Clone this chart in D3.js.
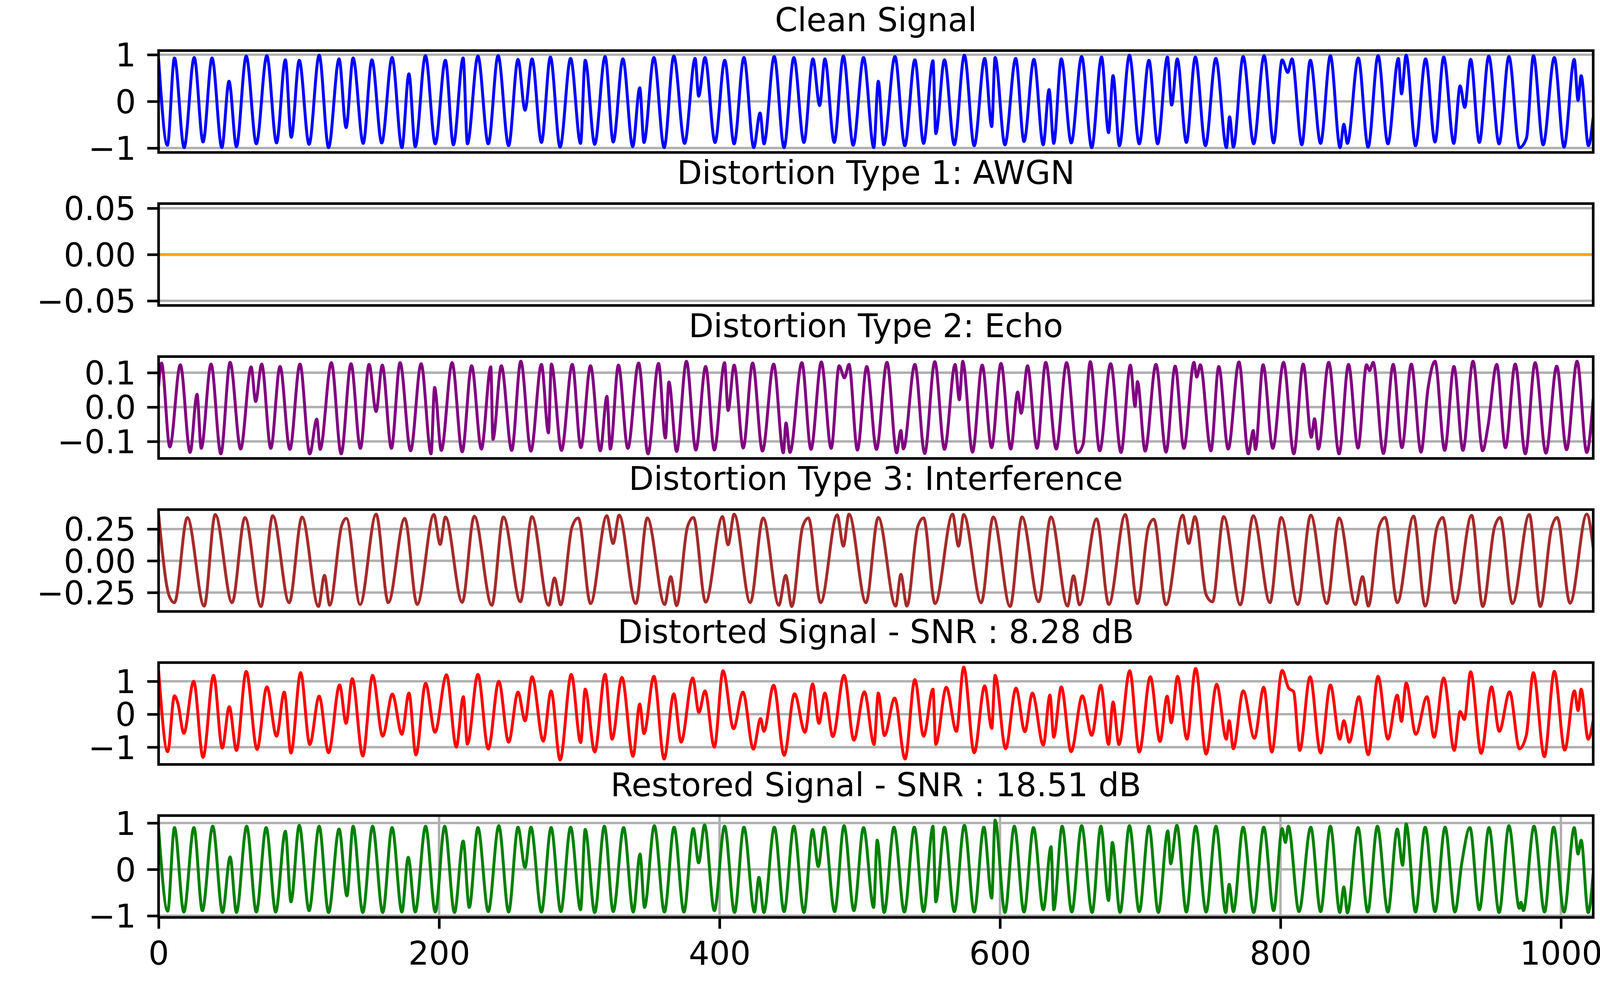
<!DOCTYPE html>
<html>
<head>
<meta charset="utf-8">
<script src="https://cdn.jsdelivr.net/npm/d3@7"></script>
<style>
  html, body { margin: 0; padding: 0; background: #ffffff; }
  svg { display: block; }
</style>
</head>
<body>
<script>
// ---------------- DATA ([sample index, value] at extrema) ----------------
const titles = [
  "Clean Signal",
  "Distortion Type 1: AWGN",
  "Distortion Type 2: Echo",
  "Distortion Type 3: Interference",
  "Distorted Signal - SNR : 8.28 dB",
  "Restored Signal - SNR : 18.51 dB"
];
const colors = ["#0000ff", "#ffa500", "#800080", "#a52a2a", "#ff0000", "#008000"];
const yLimits = [[-1.094, 1.088], [-0.055, 0.055], [-0.1494, 0.1468], [-0.399, 0.403], [-1.526, 1.568], [-1.036, 1.160]];
const yTicks = [[-1, 0, 1], [-0.05, 0, 0.05], [-0.1, 0, 0.1], [-0.25, 0, 0.25], [-1, 0, 1], [-1, 0, 1]];
const yTickDecimals = [0, 2, 1, 2, 0, 0];
const xTicks = [0, 200, 400, 600, 800, 1000];
const xDomain = [0, 1023];

const cleanPts = [[0,0.9],[6.3,-0.94],[11.3,0.93],[18.2,-0.99],[25.4,0.94],[31.7,-0.87],[38.1,0.93],[45.1,-0.99],[50.2,0.43],[55.5,-0.97],[62.5,0.97],[69.7,-0.91],[77.2,0.98],[84.1,-0.89],[90.4,0.89],[94.6,-0.77],[100.3,0.88],[107.3,-0.92],[114.5,0.99],[121.2,-0.99],[128.7,0.91],[133.7,-0.56],[138.7,0.93],[145.9,-0.9],[152.1,0.89],[159.1,-0.89],[166.5,0.94],[173.5,-0.99],[178.5,0.59],[183,-0.97],[190.3,0.98],[197.3,-0.91],[204.5,0.88],[210.2,-0.93],[217.2,0.93],[220.2,-0.91],[227.7,0.97],[235.1,-0.91],[242.1,0.98],[249.6,-0.95],[256.3,0.9],[261.3,-0.19],[266.3,0.91],[273,-0.88],[279.4,0.95],[286.3,-0.98],[293.8,0.92],[300.9,-0.9],[304.2,0.88],[311,-0.92],[318.4,0.96],[324.2,-0.87],[331.1,0.91],[338.1,-0.97],[343.1,0.29],[346.1,-0.88],[353.2,0.94],[360.5,-0.99],[367.4,0.97],[375.1,-0.9],[382.6,0.92],[385.1,0.11],[389.6,0.94],[396.8,-0.88],[403.7,0.88],[410.4,-0.91],[417.4,0.94],[424.4,-0.99],[428.9,-0.25],[431.7,-0.91],[439,0.96],[446,-0.99],[453,0.94],[460.2,-0.88],[466.6,0.91],[471.4,-0.09],[475.1,0.91],[481.8,-0.88],[488.3,0.97],[495.3,-0.94],[502.7,0.94],[510,-0.99],[513.2,0.43],[517.1,-0.93],[525.1,0.96],[532.1,-0.95],[539.3,0.89],[545.5,-0.9],[552.2,0.87],[554.2,-0.69],[560.4,0.89],[567.4,-0.93],[574.6,0.99],[581.6,-0.95],[589.1,0.92],[594.1,-0.54],[596.5,0.94],[603.5,-0.93],[611.2,0.92],[617.1,-0.86],[624.2,0.9],[630.8,-0.93],[635,0.25],[638.3,-0.9],[643.7,0.91],[650.8,-0.89],[658.2,0.96],[665.4,-0.99],[672.4,0.95],[677.4,-0.67],[680.6,0.55],[685.1,-0.95],[692.3,0.99],[699.3,-0.91],[706.2,0.88],[712.4,-0.91],[719.4,0.95],[722.4,-0.08],[726.4,0.91],[732.9,-0.88],[739.3,0.95],[746.5,-0.95],[753.9,0.92],[761.5,-0.99],[763.7,-0.33],[766.4,-0.98],[773.4,0.96],[780.9,-0.91],[788.3,0.98],[795.1,-0.89],[801.2,0.89],[805.2,0.62],[808.2,0.91],[815.2,-0.93],[821.3,0.88],[828.6,-0.9],[835.6,0.98],[842.5,-0.99],[845.2,-0.49],[847.7,-0.9],[855.5,0.93],[862.5,-0.98],[869.6,0.98],[876.6,-0.91],[884.1,0.92],[886.3,0.16],[889.6,0.99],[896.3,-0.95],[903.5,0.91],[910.2,-0.87],[916.4,0.95],[923.6,-0.9],[928.1,0.33],[931.4,-0.13],[935.6,0.9],[941.8,-0.88],[948.5,0.97],[955.9,-0.91],[962.9,0.96],[970.4,-0.99],[975.4,-0.79],[980.4,0.98],[987.3,-0.93],[995.3,0.94],[1002.2,-0.98],[1009.5,0.9],[1012.2,0.02],[1014.4,0.55],[1019.6,-0.95],[1023,-0.34]];

const awgnPts = [[0,0],[1023,0]];

const echoPts = [[0,0.06],[2.1,0.128],[8,-0.116],[15.5,0.123],[22.5,-0.132],[27.4,0.037],[30.4,-0.12],[37.4,0.125],[44.4,-0.136],[51,0.13],[58.5,-0.122],[66,0.117],[69.2,0.016],[73.5,0.125],[80,-0.12],[86.6,0.118],[93.6,-0.123],[100.8,0.125],[107.8,-0.136],[112.8,-0.035],[115.2,-0.123],[123.2,0.129],[130.2,-0.136],[137.2,0.126],[143.9,-0.12],[150.1,0.124],[155.1,-0.013],[159.5,0.122],[166,-0.12],[172.2,0.129],[179.7,-0.127],[187.2,0.126],[194.3,-0.136],[196.8,0.057],[201.6,-0.126],[209.3,0.129],[216.5,-0.13],[223.2,0.12],[230.2,-0.122],[236.9,0.117],[238.4,-0.094],[244.4,0.12],[251.8,-0.126],[258.3,0.133],[265.5,-0.128],[273,0.124],[278,-0.075],[280.1,0.125],[287.3,-0.126],[295,0.124],[301.1,-0.118],[308,0.12],[315,-0.127],[319.7,0.031],[322.1,-0.122],[327.9,0.122],[334.6,-0.12],[342.3,0.128],[349,-0.136],[356.5,0.127],[361.4,-0.09],[363.9,0.073],[369.4,-0.129],[376.4,0.133],[383.1,-0.125],[390.1,0.118],[396.3,-0.125],[403.6,0.129],[406.1,-0.01],[410.4,0.122],[416.9,-0.119],[423.6,0.128],[430.6,-0.128],[438.6,0.125],[445.5,-0.133],[447.4,-0.046],[450.2,-0.132],[458.7,0.129],[465.2,-0.123],[472.6,0.131],[479.6,-0.12],[485.3,0.12],[489.1,0.085],[492.3,0.124],[498.3,-0.125],[505,0.118],[511.9,-0.123],[519.4,0.13],[526.3,-0.133],[529.3,-0.068],[531.1,-0.122],[539.3,0.124],[546.3,-0.135],[553.5,0.132],[560.4,-0.123],[568,0.124],[571,0.021],[573.4,0.133],[580.4,-0.131],[587.3,0.122],[594,-0.118],[600.7,0.127],[607.7,-0.122],[612.6,0.044],[615.1,-0.018],[619.6,0.12],[626.4,-0.12],[632.6,0.13],[640.1,-0.122],[647.5,0.129],[655.1,-0.133],[659.2,-0.108],[664.4,0.132],[671.1,-0.127],[678.9,0.126],[686.3,-0.132],[693,0.122],[696.3,0.002],[698,0.074],[703.5,-0.128],[711.2,0.124],[718.4,-0.131],[724.9,0.119],[731.1,-0.12],[738.3,0.13],[740.3,0.087],[742.8,0.123],[750.4,-0.127],[756,0.118],[762.7,-0.122],[770.4,0.131],[777.1,-0.136],[780.6,-0.068],[782.1,-0.123],[787.6,0.123],[794.5,-0.12],[802.2,0.13],[809.5,-0.136],[816.2,0.125],[822,-0.088],[824.3,-0.034],[827,-0.122],[834.4,0.13],[841.8,-0.136],[848.5,0.124],[855.3,-0.119],[861.4,0.123],[863.5,0.106],[866.1,0.13],[873.4,-0.135],[880.4,0.124],[886.6,-0.118],[893.3,0.125],[900.2,-0.131],[905.2,0.054],[910.2,0.133],[917.1,-0.126],[923.7,0.118],[930.1,-0.126],[937.3,0.133],[944.2,-0.127],[948,-0.055],[954.2,0.124],[960.4,-0.118],[967.4,0.125],[974.6,-0.136],[981.6,0.129],[989.3,-0.134],[997,0.119],[1004,-0.124],[1011.5,0.133],[1018.4,-0.132],[1023,0.025]];

const interfPts = [[0,0.367],[7.5,-0.275],[11.3,-0.33],[20.5,0.34],[32.5,-0.357],[40.4,0.364],[52.4,-0.33],[61.6,0.34],[73,-0.36],[81.4,0.355],[93.1,-0.33],[102.3,0.344],[114,-0.36],[118.3,-0.115],[122,-0.35],[130.6,0.279],[133.9,0.334],[143.7,-0.344],[155.1,0.367],[163.8,-0.33],[175.5,0.334],[184.4,-0.344],[196.3,0.364],[200.8,0.129],[204.5,0.345],[216.5,-0.327],[225.1,0.351],[237.6,-0.35],[245.9,0.345],[258,-0.323],[266.2,0.348],[278.1,-0.35],[282.3,-0.136],[286.8,-0.347],[294.8,0.266],[299.3,0.337],[308,-0.337],[319.6,0.355],[324.1,0.136],[328.4,0.359],[340.3,-0.337],[348.5,0.337],[360.9,-0.344],[365.2,-0.125],[369.4,-0.353],[377.1,0.266],[381.4,0.341],[390.1,-0.326],[402.1,0.348],[406.1,0.126],[410.4,0.367],[421.9,-0.33],[431.1,0.337],[442.3,-0.35],[447.2,-0.115],[451.5,-0.36],[459.2,0.266],[463.4,0.337],[472.1,-0.33],[483.9,0.362],[488.3,0.115],[492.3,0.367],[504.4,-0.33],[513.2,0.341],[525.6,-0.357],[529.3,-0.107],[533.6,-0.357],[541.3,0.266],[545.5,0.337],[553.7,-0.337],[566.2,0.367],[570.4,0.115],[574.1,0.364],[586.6,-0.33],[595.2,0.345],[607.2,-0.36],[615.7,0.345],[627.6,-0.323],[636.3,0.345],[648.2,-0.357],[652.4,-0.118],[656.7,-0.347],[668.9,0.33],[677.6,-0.344],[689.3,0.364],[698,-0.337],[705.9,0.266],[709.7,0.327],[718.4,-0.347],[730.3,0.359],[734.5,0.136],[739,0.348],[747,-0.267],[751.5,-0.323],[759.5,0.348],[771.4,-0.347],[780.6,0.355],[792.5,-0.33],[800.5,0.341],[812.4,-0.344],[821.6,0.359],[833.1,-0.337],[841.8,0.337],[853.5,-0.344],[858.5,-0.125],[862.7,-0.357],[870.4,0.271],[874.6,0.341],[883.3,-0.33],[894.9,0.352],[903.2,-0.357],[911.5,0.259],[915.7,0.341],[924.4,-0.333],[936.3,0.358],[944.3,-0.36],[952.5,0.259],[956.7,0.341],[965.4,-0.337],[977.4,0.364],[985.3,-0.36],[993.3,0.259],[997.3,0.341],[1006.5,-0.334],[1018.4,0.367],[1023,0.104]];

const distortedPts = [[0,1.32],[6.5,-1.14],[11.3,0.56],[13.8,0.32],[18,-0.58],[25,1.0],[31.7,-1.31],[39.2,1.18],[45.4,-1.03],[50.4,0.23],[55.5,-1.1],[62.5,1.3],[70.2,-1.07],[77.2,0.83],[84.1,-0.67],[89.6,0.67],[94.4,-1.18],[101.3,1.26],[107.8,-0.92],[114.5,0.55],[121.2,-1.17],[129.1,0.89],[133.7,-0.28],[138.1,1.08],[145.6,-1.27],[152.6,1.18],[159.8,-0.67],[166.7,0.61],[173.5,-0.61],[178.5,0.64],[183.5,-1.24],[190.4,0.94],[197.1,-0.55],[205.3,1.2],[212.3,-1.0],[217.3,0.53],[220.2,-0.91],[227.7,1.21],[235.1,-1.06],[242.6,1.0],[249.6,-0.85],[256.3,0.67],[261.3,-0.2],[266.3,1.14],[274.3,-0.82],[279.9,0.71],[286.3,-1.39],[294.3,1.21],[301,-0.86],[304.2,0.76],[311,-1.15],[318.4,1.21],[323.4,-0.76],[330.4,1.12],[338.3,-1.28],[343.1,0.31],[346.1,-0.59],[353.2,1.15],[360.5,-1.36],[367.4,0.62],[372.6,-0.85],[380.9,1.1],[385.3,0.05],[389.6,0.71],[396.3,-1.0],[402.5,1.32],[410,-0.44],[416.7,0.67],[424.1,-1.06],[429.3,-0.13],[431.6,-0.52],[438.6,0.88],[446.1,-1.25],[453.5,0.62],[460.9,-0.55],[466.4,0.92],[470.9,-0.28],[475.1,0.64],[480.8,-0.68],[488.8,1.18],[495.8,-0.79],[503.3,0.68],[510.2,-0.92],[513.2,0.64],[517.6,-0.65],[524.9,0.49],[532.3,-1.36],[539.3,1.05],[545.5,-0.67],[552.2,0.76],[554.2,-0.92],[561.7,0.82],[568.9,-0.52],[574.1,1.43],[581.6,-1.17],[589.1,0.86],[594.1,-0.43],[596.5,1.18],[604,-1.05],[611.4,0.79],[617.7,-0.53],[623.1,0.64],[630.9,-0.94],[635.6,0.58],[638.3,-0.7],[643.7,0.83],[650.7,-1.14],[658.7,0.56],[665.4,-0.64],[671.9,0.88],[677.4,-0.92],[680.6,0.37],[684.8,-0.92],[692.5,1.32],[699.3,-1.15],[707.2,1.14],[714.1,-0.83],[719.2,0.55],[722.1,-0.26],[726.6,1.15],[733.3,-0.76],[739.5,1.39],[747,-1.21],[754.5,0.91],[761.4,-0.76],[763.4,-0.2],[766.4,-1.05],[773.4,0.71],[781.4,-0.73],[788.1,0.82],[793.8,-1.15],[801.2,1.33],[805.7,0.8],[809.4,0.68],[813.7,-1.1],[821.1,1.14],[828.6,-1.18],[835.6,0.89],[842.3,-0.76],[845.2,-0.2],[849.1,-0.85],[855.9,0.53],[862.6,-1.23],[869.6,1.15],[876.6,-0.76],[883.3,0.58],[886.3,-0.22],[889.6,0.95],[896.5,-0.61],[904.5,0.53],[909.5,-0.7],[916.4,1.1],[923.9,-1.1],[928.1,0.08],[931.1,-0.16],[935.6,1.29],[943.1,-1.19],[950.5,0.83],[956,-0.52],[963.4,0.68],[970.4,-1.05],[975.3,-0.64],[980.3,1.26],[988.2,-1.29],[995.3,1.3],[1002.7,-1.09],[1009.6,0.71],[1012.2,0.11],[1014.4,0.76],[1019.4,-0.76],[1023,-0.19]];

const restoredPts = [[0,0.88],[6.5,-0.9],[11.3,0.9],[18,-0.92],[25.2,0.9],[31.2,-0.89],[38.6,0.93],[45.6,-0.93],[51,0.27],[55.5,-0.93],[62.8,0.93],[69.7,-0.92],[76.7,0.9],[83.5,-0.92],[90.4,0.82],[94.4,-0.7],[100.3,0.95],[107.3,-0.89],[114.5,0.93],[121.2,-0.93],[128.7,0.87],[134.3,-0.57],[138.7,0.93],[145.6,-0.93],[152.6,0.93],[159.8,-0.93],[166.5,0.9],[173.5,-0.92],[178,0.26],[183,-0.92],[190.4,0.93],[197.3,-0.92],[204,0.93],[211,-0.93],[217.2,0.61],[221.5,-0.82],[227.7,0.9],[235.1,-0.91],[242.6,0.94],[249.6,-0.92],[256.3,0.91],[261.3,0.04],[265.5,0.91],[273,-0.92],[279.9,0.9],[286.8,-0.91],[293.8,0.91],[300.9,-0.87],[304.2,0.86],[311,-0.93],[317.9,0.93],[324.2,-0.91],[331.6,0.9],[338.5,-0.92],[343.3,0.33],[346.5,-0.82],[353.5,0.94],[360.7,-0.92],[367.6,0.91],[374.6,-0.92],[381.3,0.88],[385.1,0.14],[389.3,0.96],[396.3,-0.89],[403.6,0.93],[410.7,-0.93],[417.4,0.91],[424.9,-0.92],[428.1,-0.17],[431.6,-0.93],[439.1,0.91],[446,-0.91],[453,0.93],[460.2,-0.93],[466.4,0.86],[470.4,0.06],[474.6,0.91],[482.1,-0.91],[488.8,0.94],[495.8,-0.89],[502.7,0.9],[509.9,-0.82],[512.4,0.63],[517.4,-0.93],[524.4,0.91],[531.8,-0.92],[538.9,0.91],[545.5,-0.91],[552.2,0.93],[554.2,-0.7],[560.4,0.91],[567.4,-0.91],[574.6,0.95],[581.6,-0.92],[588.5,0.91],[594.1,-0.62],[596.5,1.06],[603.5,-0.93],[610.2,0.93],[617.1,-0.92],[623.9,0.9],[630.9,-0.87],[636.4,0.49],[638.3,-0.87],[644.3,0.93],[651.2,-0.92],[658.2,0.94],[665.7,-0.93],[671.9,0.93],[677.4,-0.67],[680.1,0.58],[685.6,-0.93],[692.3,0.94],[699.3,-0.91],[706.2,0.93],[712.9,-0.93],[719.7,0.83],[721.7,0.12],[726.1,0.95],[732.9,-0.92],[739.5,0.93],[747,-0.92],[754,0.93],[761,-0.93],[763.4,-0.32],[766.4,-0.91],[773.4,0.91],[780.9,-0.93],[788.1,0.91],[795.1,-0.89],[801.2,0.88],[803.5,0.58],[805.6,0.93],[813.2,-0.91],[821.6,0.91],[828.6,-0.91],[835.6,0.93],[842.3,-0.93],[845.2,-0.38],[847.7,-0.935],[855.3,0.9],[862.2,-0.92],[869.1,0.93],[876.6,-0.92],[883.3,0.87],[887.1,0.09],[889.6,0.98],[896.3,-0.92],[903.2,0.91],[910.2,-0.91],[917.4,0.91],[924.4,-0.92],[929.3,0.14],[935.1,0.9],[941.8,-0.87],[948.7,0.9],[955.9,-0.93],[962.9,0.94],[970.4,-0.84],[971.5,-0.71],[973.2,-0.89],[980.8,0.93],[988.3,-0.92],[994.8,0.91],[1002.2,-0.92],[1009.5,0.9],[1012.2,0.33],[1014.4,0.63],[1019.4,-0.93],[1023,-0.08]];

const seriesList = [cleanPts, awgnPts, echoPts, interfPts, distortedPts, restoredPts];

// ---------------- LAYOUT ----------------
const W = 4200, H = 2580;
const axLeft = 406, axRight = 4078.6;
const axTop0 = 129.5, axStep = 391.6, axH = 260.7;
const FONT = "'DejaVu Sans', sans-serif";
const FS = 83;
const tickLen = 29, tickPad = 29;
const spineW = 6.7, gridW = 6.2, lineW = 7.5;
const gridColor = "#b0b0b0";

const svg = d3.select("body").append("svg")
  .attr("width", W).attr("height", H)
  .attr("viewBox", `0 0 ${W} ${H}`);
svg.append("rect").attr("width", W).attr("height", H).attr("fill", "#ffffff");

const x = d3.scaleLinear().domain(xDomain).range([axLeft, axRight]);
const fmtMinus = (d, dec) => {
  const s = d3.format(`.${dec}f`)(Math.abs(d) < 1e-12 ? 0 : d);
  return s.replace("-", "\u2212");
};

seriesList.forEach((pts, i) => {
  const top = axTop0 + i * axStep;
  const bottom = top + axH;
  const y = d3.scaleLinear().domain(yLimits[i]).range([bottom, top]);
  const g = svg.append("g");

  // clip
  const clipId = `clip${i}`;
  svg.append("clipPath").attr("id", clipId)
    .append("rect").attr("x", axLeft).attr("y", top)
    .attr("width", axRight - axLeft).attr("height", axH);

  // y grid
  g.append("g").selectAll("line").data(yTicks[i]).join("line")
    .attr("x1", axLeft).attr("x2", axRight)
    .attr("y1", d => y(d)).attr("y2", d => y(d))
    .attr("stroke", gridColor).attr("stroke-width", gridW);

  // x grid only on the bottom panel
  if (i === seriesList.length - 1) {
    g.append("g").selectAll("line").data(xTicks).join("line")
      .attr("x1", d => x(d)).attr("x2", d => x(d))
      .attr("y1", top).attr("y2", bottom)
      .attr("stroke", gridColor).attr("stroke-width", gridW);
  }

  // signal line
  const line = d3.line()
    .x(d => x(d[0])).y(d => y(d[1]))
    .curve(d3.curveMonotoneX);
  g.append("path").datum(pts)
    .attr("d", line)
    .attr("fill", "none")
    .attr("stroke", colors[i])
    .attr("stroke-width", lineW)
    .attr("stroke-linejoin", "round")
    .attr("clip-path", `url(#${clipId})`);

  // y axis
  const yAxis = d3.axisLeft(y).tickValues(yTicks[i])
    .tickSize(tickLen).tickPadding(tickPad)
    .tickFormat(d => fmtMinus(d, yTickDecimals[i]));
  const ya = g.append("g").attr("transform", `translate(${axLeft},0)`).call(yAxis);
  ya.select(".domain").remove();
  ya.selectAll(".tick line").attr("stroke", "#000").attr("stroke-width", spineW);
  ya.selectAll(".tick text").attr("font-family", FONT).attr("font-size", FS)
    .attr("fill", "#000").attr("dy", "0.36em");

  // x axis on bottom panel
  if (i === seriesList.length - 1) {
    const xAxis = d3.axisBottom(x).tickValues(xTicks)
      .tickSize(tickLen).tickPadding(tickPad)
      .tickFormat(d3.format("d"));
    const xa = g.append("g").attr("transform", `translate(0,${bottom})`).call(xAxis);
    xa.select(".domain").remove();
    xa.selectAll(".tick line").attr("stroke", "#000").attr("stroke-width", spineW);
    xa.selectAll(".tick text").attr("font-family", FONT).attr("font-size", FS)
      .attr("fill", "#000").attr("dy", "0.76em");
  }

  // spines
  g.append("rect")
    .attr("x", axLeft).attr("y", top)
    .attr("width", axRight - axLeft).attr("height", axH)
    .attr("fill", "none").attr("stroke", "#000").attr("stroke-width", spineW);

  // title
  g.append("text")
    .attr("x", (axLeft + axRight) / 2).attr("y", top - 50)
    .attr("text-anchor", "middle")
    .attr("font-family", FONT).attr("font-size", FS)
    .attr("fill", "#000")
    .text(titles[i]);
});
</script>
</body>
</html>
